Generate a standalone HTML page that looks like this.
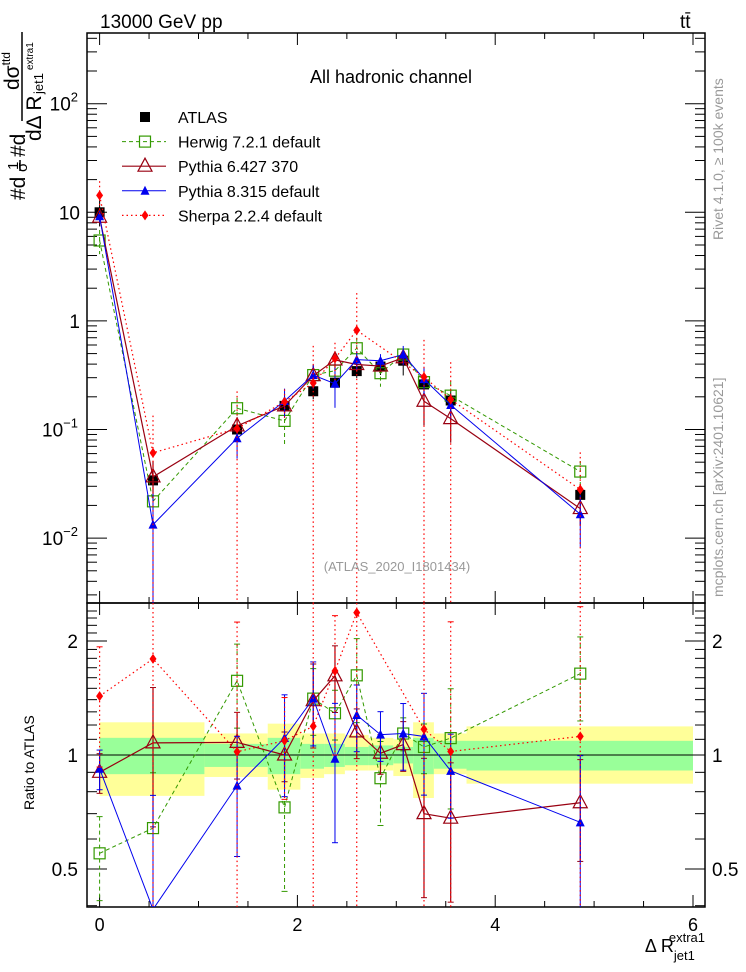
<!DOCTYPE html>
<html><head><meta charset="utf-8"><style>
body{margin:0;background:#fff;}
svg{display:block;font-family:"Liberation Sans",sans-serif;}
</style></head><body>
<svg id="c" width="746" height="972" viewBox="0 0 746 972" xmlns="http://www.w3.org/2000/svg">
<g id="bands"></g>
<g id="axes"></g>
<g id="series"></g>
<text x="100" y="28" font-size="19">13000 GeV pp</text>
<text x="680" y="28" font-size="19">tt̄</text>
<text x="391" y="83" font-size="18" text-anchor="middle">All hadronic channel</text>
<text x="397" y="571" font-size="13" fill="#999" text-anchor="middle">(ATLAS_2020_I1801434)</text>
<text transform="translate(723,240) rotate(-90)" font-size="14" fill="#999" text-anchor="start">Rivet 4.1.0, ≥ 100k events</text>
<text transform="translate(723,597) rotate(-90)" font-size="14" fill="#999">mcplots.cern.ch [arXiv:2401.10621]</text>
<g>
<text transform="translate(25,200) rotate(-90)" font-size="21">#d</text>
<text transform="translate(18,170) rotate(-90)" font-size="15">1</text>
<line x1="20" y1="160" x2="20" y2="171" stroke="#000" stroke-width="1.5"/>
<text transform="translate(27,172) rotate(-90)" font-size="15">σ</text>
<text transform="translate(25,157) rotate(-90)" font-size="21">#d</text>
<text transform="translate(19,90) rotate(-90)" font-size="21">dσ<tspan font-size="12" dy="-9">ttd</tspan></text>
<line x1="22" y1="32" x2="22" y2="121" stroke="#000" stroke-width="1.5"/>
<text transform="translate(41,141) rotate(-90)" font-size="21">dΔ R</text>
<text transform="translate(43,94) rotate(-90)" font-size="13">jet1</text>
<text transform="translate(33,70) rotate(-90)" font-size="10">extra1</text>
</g>
<text transform="translate(34,810) rotate(-90)" font-size="14">Ratio to ATLAS</text>
<text x="705" y="952" font-size="18" text-anchor="end">Δ R<tspan font-size="13" dy="8">jet1</tspan><tspan font-size="13" dx="-26" dy="-18">extra1</tspan></text>
<g id="legend"></g>
</svg>
<script>
const xs=[0,0.54,1.39,1.87,2.16,2.38,2.60,2.84,3.07,3.28,3.55,4.86];
const atlas=[10,0.034,0.1,0.165,0.225,0.27,0.345,0.38,0.43,0.26,0.185,0.025];
const herwig=[5.5,0.0218,0.157,0.12,0.317,0.348,0.56,0.33,0.49,0.273,0.205,0.041];
const pythia6=[9.0,0.0366,0.108,0.165,0.313,0.437,0.397,0.384,0.458,0.182,0.126,0.0187];
const pythia8=[9.2,0.0133,0.083,0.183,0.317,0.264,0.44,0.43,0.49,0.291,0.168,0.0166];
const sherpa=[14.3,0.061,0.102,0.18,0.268,0.45,0.82,null,null,0.304,0.189,0.028];
const herwigErr=[0.25,0.4,0.25,0.4,0.2,0.15,0.25,0.25,0.1,0.15,0.35,0.25];
const pythia6Err=[0.12,0.4,0.2,0.15,0.25,0.2,0.15,0.12,0.15,0.4,0.4,0.3];
const pythia8Err=[0.12,1.0,0.35,0.3,0.25,0.4,0.2,0.15,0.2,0.3,0.25,0.5];
const sherpaErr=[0.35,1.2,1.2,0.3,1.2,0.4,1.2,0.3,0.3,1.2,1.2,1.2];
const binEdges=[0,1.06,1.70,2.03,2.27,2.48,2.72,2.97,3.17,3.38,3.71,6.0];
const greenHi=[1.11,1.07,1.11,1.07,1.07,1.05,1.06,1.05,1.11,1.09,1.09];
const greenLo=[0.89,0.93,0.89,0.92,0.93,0.94,0.94,0.95,0.89,0.92,0.91];
const yellowHi=[1.22,1.14,1.21,1.14,1.14,1.13,1.11,1.10,1.22,1.14,1.19];
const yellowLo=[0.78,0.875,0.81,0.87,0.89,0.91,0.91,0.88,0.77,0.89,0.84];
const xTicks=[0,2,4,6];
const mainTicks=[["10",2,"2"],["10",1,""],["1",0,""],["10",-1,"−1"],["10",-2,"−2"]];
const ratioTicks=[2,1,0.5];

const NS="http://www.w3.org/2000/svg";
const X0=99.6,XS=98.9,L=87,R=705,T=33,MB=603,RB=907;
const X=v=>X0+v*XS;
const Y=v=>320.9-Math.log10(v)*108.6;
const RY=v=>755-Math.log2(v)*114;
function el(tag,attrs,parent){const e=document.createElementNS(NS,tag);for(const k in attrs)e.setAttribute(k,attrs[k]);parent.appendChild(e);return e;}
const ax=document.getElementById('axes'),bd=document.getElementById('bands'),sg=document.getElementById('series'),lg=document.getElementById('legend');
const clampR=y=>Math.max(MB,Math.min(RB,y));
const clampM=y=>Math.max(T,Math.min(MB,y));

for(let i=0;i<greenHi.length;i++){
 const y=el('rect',{x:X(binEdges[i]),y:RY(yellowHi[i]),width:X(binEdges[i+1])-X(binEdges[i]),height:RY(yellowLo[i])-RY(yellowHi[i]),fill:'#ffff99'},bd);
 
 
 const g=el('rect',{x:X(binEdges[i]),y:RY(greenHi[i]),width:X(binEdges[i+1])-X(binEdges[i]),height:RY(greenLo[i])-RY(greenHi[i]),fill:'#99ff99'},bd);
 
 
}
el('line',{x1:L,x2:R,y1:RY(1),y2:RY(1),stroke:'#000','stroke-width':1},ax);
el('rect',{x:L,y:T,width:R-L,height:MB-T,fill:'none',stroke:'#000','stroke-width':1.5},ax);
el('rect',{x:L,y:MB,width:R-L,height:RB-MB,fill:'none',stroke:'#000','stroke-width':1.5},ax);
for(let v=0;v<=6.001;v+=0.5){
 const maj=Math.abs(v-Math.round(v/2)*2)<0.01, len=maj?12:6, x=X(v);
 [[T,1],[MB,-1],[MB,1],[RB,-1]].forEach(([y,d])=>el('line',{x1:x,x2:x,y1:y,y2:y+d*len,stroke:'#000'},ax));
}
xTicks.forEach(v=>{const t=el('text',{x:X(v),y:931,'font-size':18,'text-anchor':'middle'},ax);t.textContent=v;
 
 });
for(let d=-3;d<=2;d++)for(let m=1;m<10;m++){const v=m*Math.pow(10,d),y=Y(v);if(y<T||y>MB)continue;
 const len=m==1?20:10;el('line',{x1:L,x2:L+len,y1:y,y2:y,stroke:'#000'},ax);el('line',{x1:R,x2:R-len,y1:y,y2:y,stroke:'#000'},ax);}
mainTicks.forEach(([b,p,s])=>{const t=el('text',{x:s?78:80,y:Y(Math.pow(10,p))+7,'font-size':19,'text-anchor':'end'},ax);
 
 
 t.textContent=b;if(s){const ts=el('tspan',{'font-size':13,dy:-9},t);ts.textContent=s;}});
for(let v=0.4;v<=2.5;v+=0.1){const y=RY(v);if(y<MB||y>RB)continue;const maj=[0.5,1,2].some(a=>Math.abs(a-v)<1e-6);const len=maj?20:10;
 el('line',{x1:L,x2:L+len,y1:y,y2:y,stroke:'#000'},ax);el('line',{x1:R,x2:R-len,y1:y,y2:y,stroke:'#000'},ax);}
ratioTicks.forEach(v=>{[[78,'end'],[712,'start']].forEach(([x,a])=>{const t=el('text',{x:x,y:RY(v)+7,'font-size':19,'text-anchor':a},ax);t.textContent=v;
 
 });});

function marker(g,kind,x,y,color){
 if(kind=='sq')el('rect',{x:x-5,y:y-5,width:10,height:10,fill:'#000'},g);
 else if(kind=='osq')el('rect',{x:x-5.5,y:y-5.5,width:11,height:11,fill:'none',stroke:color,'stroke-width':1.2},g);
 else if(kind=='otri')el('polygon',{points:`${x},${y-8} ${x-7},${y+5} ${x+7},${y+5}`,fill:'none',stroke:color,'stroke-width':1.2},g);
 else if(kind=='tri')el('polygon',{points:`${x},${y-5} ${x-4.5},${y+4} ${x+4.5},${y+4}`,fill:color},g);
 else if(kind=='dia')el('polygon',{points:`${x},${y-5} ${x-3.5},${y} ${x},${y+5} ${x+3.5},${y}`,fill:color},g);
}
const defs=[
 {name:'herwig',vals:herwig,err:herwigErr,color:'#339900',dash:'4,3',m:'osq',label:'Herwig 7.2.1 default',w:1},
 {name:'pythia6',vals:pythia6,err:pythia6Err,color:'#990011',dash:'',m:'otri',label:'Pythia 6.427 370',w:1.2},
 {name:'pythia8',vals:pythia8,err:pythia8Err,color:'#0000ee',dash:'',m:'tri',label:'Pythia 8.315 default',w:1},
 {name:'sherpa',vals:sherpa,err:sherpaErr,color:'#ff0000',dash:'1.5,3',m:'dia',label:'Sherpa 2.2.4 default',w:1.2}
];
const cp=el('clipPath',{id:'rclip'},document.getElementById('c'));
el('rect',{x:L,y:MB,width:R-L,height:RB-MB},cp);
const ag=el('g',{},sg);


atlas.forEach((v,i)=>{const x=X(xs[i]);const k=Math.min(i,10);
 el('line',{x1:x,x2:x,y1:Y(v*yellowHi[k]*1.05),y2:Y(v*yellowLo[k]*0.95),stroke:'#000'},ag);
 marker(ag,'sq',x,Y(v),'#000');});
defs.forEach(d=>{
 const g=el('g',{},sg);
 
 
 const st={fill:'none',stroke:d.color,'stroke-width':d.w};if(d.dash)st['stroke-dasharray']=d.dash;
 const idx=d.vals.map((v,i)=>i).filter(i=>d.vals[i]!=null);
 const pm=idx.map(i=>X(xs[i])+','+Y(d.vals[i])).join(' ');
 el('polyline',Object.assign({points:pm},st),g);
 const ratio=d.vals.map((v,i)=>v==null?null:v/atlas[i]);
 const pr=idx.map(i=>X(xs[i])+','+RY(ratio[i])).join(' ');
 el('polyline',Object.assign({points:pr,'clip-path':'url(#rclip)'},st),g);
 idx.forEach(i=>{const v=d.vals[i];const x=X(xs[i]),e=d.err[i];
  const lo=e>=1?0.0001:v*(1-e);
  el('line',Object.assign({x1:x,x2:x,y1:clampM(Y(v*(1+e))),y2:clampM(Y(lo))},st),g);
  const r=ratio[i],rlo=e>=1?0.0001:r*(1-e);
  const yt=clampR(RY(r*(1+e))),yb=clampR(RY(rlo));
  el('line',Object.assign({x1:x,x2:x,y1:yt,y2:yb},st),g);
  [yt,yb].forEach(yy=>{if(yy>MB&&yy<RB)el('line',{x1:x-3,x2:x+3,y1:yy,y2:yy,stroke:d.color},g);});
  marker(g,d.m,x,Y(v),d.color);
  const ry=RY(r);if(ry>MB&&ry<RB)marker(g,d.m,x,ry,d.color);
 });
});
const rows=[{label:'ATLAS',m:'sq',color:'#000'}].concat(defs);
rows.forEach((d,i)=>{const y=117+i*24.6;const g=el('g',{},lg);
 
 
 if(d.name){const st={x1:122,x2:166,y1:y,y2:y,stroke:d.color,'stroke-width':d.w};if(d.dash)st['stroke-dasharray']=d.dash;el('line',st,g);}
 marker(g,d.m,145,y,d.color);
 const t=el('text',{x:178,y:y+6,'font-size':16},g);t.textContent=d.label;});
</script>
</body></html>
